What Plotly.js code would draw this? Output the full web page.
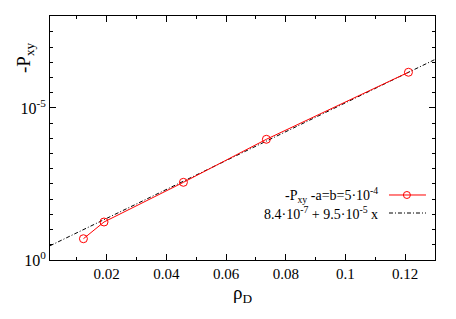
<!DOCTYPE html>
<html><head><meta charset="utf-8">
<script src="https://cdn.plot.ly/plotly-3.0.1.min.js"></script>
<style>body{margin:0;background:#fff}#c{width:456px;height:319px}</style>
</head><body><div id="c"></div>
<script>
// data
const rhoD = [0.0122, 0.0191, 0.0457, 0.0735, 0.1211];
const Pxy  = [1.40e-6, 2.50e-6, 5.11e-6, 7.94e-6, 1.235e-5];
const fitX = [0.001, 0.13];
const fitY = [0.935e-6, 1.319e-5];
const yTickVals = [0, 1e-5];
const yTickText = ['10<sup>0</sup>', '10<sup>-5</sup>'];
const xTickVals = [0.02, 0.04, 0.06, 0.08, 0.1, 0.12];
const xTickText = ['0.02', '0.04', '0.06', '0.08', '0.1', '0.12'];
const legendText = ['-P<sub>xy</sub> -a=b=5·10<sup>-4</sup>', '8.4·10<sup>-7</sup> + 9.5·10<sup>-5</sup> x'];

const F = "'Liberation Serif', 'Times New Roman', serif";
const traces = [
  {x: fitX, y: fitY, mode: 'lines', line: {color: '#000', width: 1, dash: '4px,2px,1px,2px'}, hoverinfo: 'skip'},
  {x: rhoD, y: Pxy, mode: 'lines+markers', line: {color: '#ff0000', width: 1},
   marker: {symbol: 'circle-open', size: 8, color: '#ff0000', line: {width: 1}}}
];
const ax = {
  showgrid: false, zeroline: false, showline: true, linecolor: '#000', linewidth: 1,
  mirror: 'allticks', ticks: 'inside', ticklen: 6, tickcolor: '#000', tickwidth: 1
};
const layout = {
  width: 456, height: 319, margin: {l: 50, r: 21, t: 16, b: 59},
  paper_bgcolor: '#fff', plot_bgcolor: '#fff', showlegend: false,
  font: {family: F, color: '#000'},
  xaxis: Object.assign({}, ax, {range: [0.001, 0.13], tickvals: xTickVals, ticktext: xTickText,
    tickfont: {family: F, size: 15, color: '#000'},
    minor: {dtick: 0.01, tick0: 0, ticks: 'inside', ticklen: 3, tickcolor: '#000'},
    title: {text: 'ρ<sub>D</sub>', font: {family: F, size: 19}, standoff: 4}}),
  yaxis: Object.assign({}, ax, {range: [0, 1.605e-5], tickvals: yTickVals, ticktext: yTickText,
    tickfont: {family: F, size: 16, color: '#000'},
    minor: {dtick: 1e-6, tick0: 0, ticks: 'inside', ticklen: 3, tickcolor: '#000'}}),
  annotations: [
    {xref: 'paper', yref: 'paper', x: -0.065, y: 0.832, text: '-P<sub>xy</sub>', textangle: -90,
     showarrow: false, xanchor: 'center', yanchor: 'middle', font: {family: F, size: 19}},
    {xref: 'paper', yref: 'paper', x: 0.857, y: 0.2664, text: legendText[0], showarrow: false,
     xanchor: 'right', yanchor: 'middle', font: {family: F, size: 14}},
    {xref: 'paper', yref: 'paper', x: 0.857, y: 0.1926, text: legendText[1], showarrow: false,
     xanchor: 'right', yanchor: 'middle', font: {family: F, size: 14}}
  ],
  shapes: [
    {type: 'line', xref: 'paper', yref: 'paper', x0: 0.8805, x1: 0.9766, y0: 0.2664, y1: 0.2664, line: {color: '#ff0000', width: 1}},
    {type: 'circle', xref: 'paper', yref: 'paper', xsizemode: 'pixel', ysizemode: 'pixel', xanchor: 0.927, yanchor: 0.2664,
     x0: -3.5, x1: 3.5, y0: -3.5, y1: 3.5, line: {color: '#ff0000', width: 1}},
    {type: 'line', xref: 'paper', yref: 'paper', x0: 0.8805, x1: 0.9766, y0: 0.1926, y1: 0.1926, line: {color: '#000', width: 1, dash: '4px,2px,1px,2px'}}
  ]
};
Plotly.newPlot('c', traces, layout, {displayModeBar: false, staticPlot: true});
</script></body></html>
